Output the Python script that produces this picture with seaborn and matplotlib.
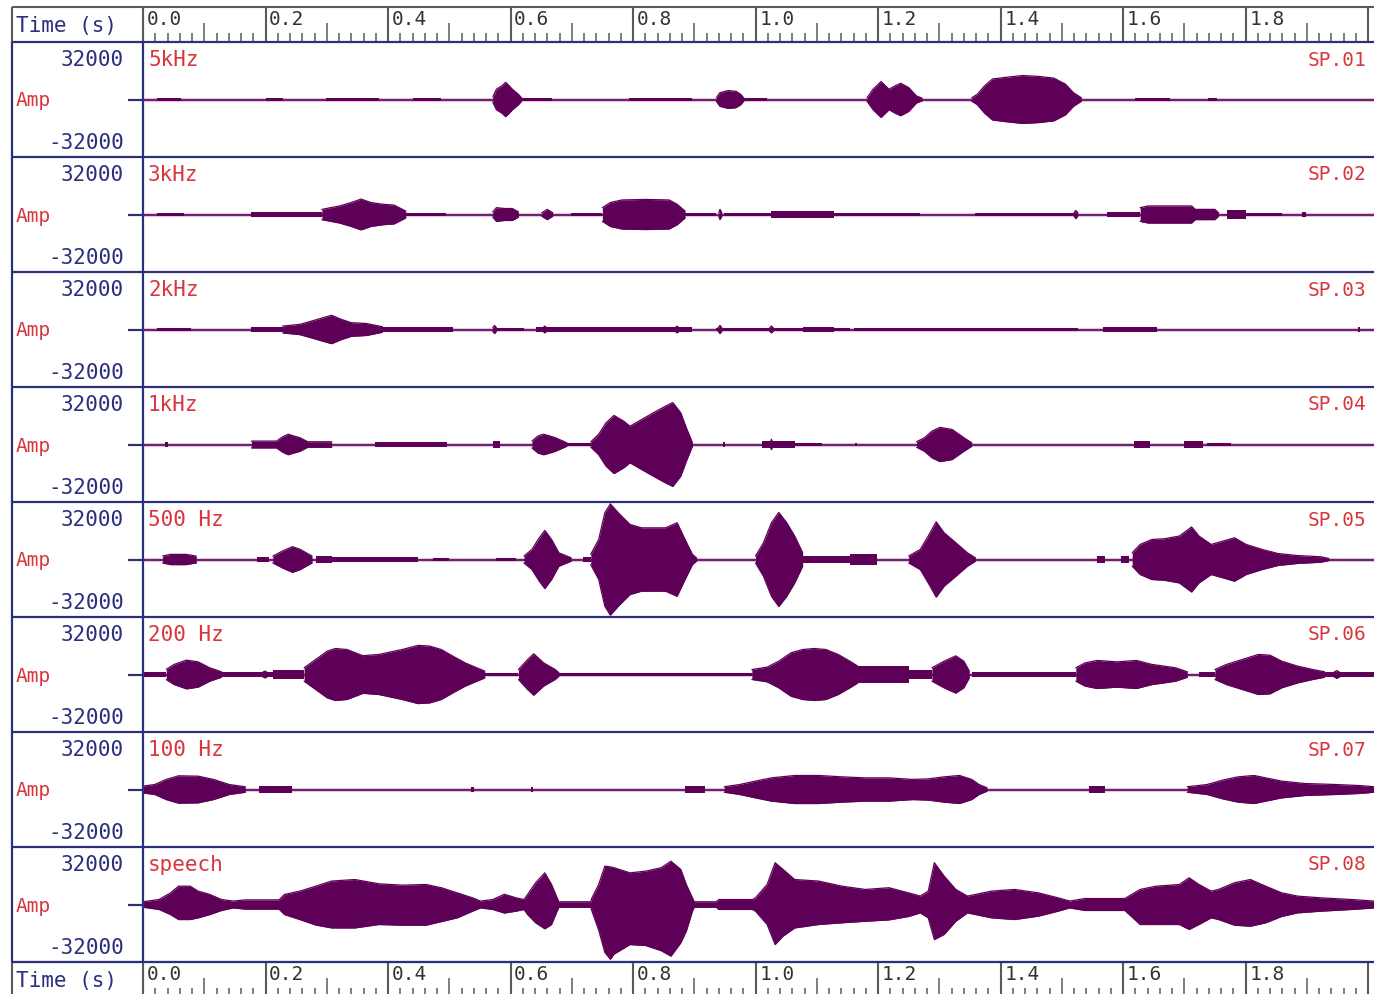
import numpy as np
import pandas as pd
import matplotlib
matplotlib.use("Agg")
import matplotlib.pyplot as plt
import seaborn as sns

# ---------------------------------------------------------------- data
CHANNELS = ["5kHz", "3kHz", "2kHz", "1kHz", "500 Hz", "200 Hz", "100 Hz", "speech"]
TAGS = ["SP.01", "SP.02", "SP.03", "SP.04", "SP.05", "SP.06", "SP.07", "SP.08"]
AMP_LABELS = ["32000", "-32000"]
TIME_LABEL = "Time (s)"

# envelope points of each burst: (time s, +amplitude[, -amplitude])
# low-level stretches: (start s, end s, amplitude)
BURST_5K = [
    [(0.571, 1500), (0.577, 6000), (0.586, 8000), (0.592, 10000), (0.598, 8000), (0.603, 6000), (0.613, 3000), (0.618, 1000)],
    [(0.936, 1000), (0.942, 4000), (0.955, 5200), (0.968, 4800), (0.976, 3000), (0.981, 800)],
    [(1.182, 1000), (1.192, 6000), (1.205, 10500), (1.218, 6000), (1.228, 8000), (1.237, 9500), (1.250, 7000), (1.263, 2000), (1.272, 800)],
    [(1.353, 1000), (1.362, 3000), (1.374, 8000), (1.387, 12000), (1.410, 13000), (1.436, 14000), (1.462, 13500), (1.487, 12500), (1.506, 9000), (1.519, 4000), (1.532, 1000)],
]
LOW_5K = [(0.023, 0.062, 900), (0.200, 0.228, 900), (0.298, 0.385, 900), (0.441, 0.487, 900), (0.615, 0.667, 1000),
          (0.793, 0.897, 900), (0.974, 1.019, 800), (1.619, 1.677, 900), (1.738, 1.754, 900)]

BURST_3K = [
    [(0.292, 3000), (0.321, 5000), (0.340, 7000), (0.356, 9000), (0.372, 7000), (0.391, 6000), (0.410, 5500), (0.429, 2000)],
    [(0.571, 1500), (0.577, 4000), (0.590, 3500), (0.603, 3500), (0.613, 1500)],
    [(0.651, 1000), (0.660, 3000), (0.669, 1000)],
    [(0.750, 4000), (0.763, 7000), (0.782, 8500), (0.821, 8800), (0.859, 8500), (0.872, 6000), (0.885, 2000)],
    [(0.940, 1000), (0.942, 3000), (0.945, 1000)],
    [(1.520, 1000), (1.523, 2400), (1.526, 1000)],
    [(1.628, 4000), (1.641, 5000), (1.712, 5000), (1.718, 3000), (1.750, 3000), (1.756, 1000)],
]
LOW_3K = [(0.023, 0.067, 900), (0.177, 0.292, 1200), (0.429, 0.494, 1000), (0.699, 0.750, 900), (0.885, 0.936, 900),
          (0.949, 1.269, 1000), (1.026, 1.128, 2000), (1.359, 1.526, 1000), (1.574, 1.628, 1500),
          (1.769, 1.801, 2400), (1.801, 1.859, 1000), (1.893, 1.899, 1500)]

BURST_2K = [
    [(0.228, 2000), (0.256, 3000), (0.276, 5000), (0.295, 7000), (0.308, 8300), (0.323, 6000), (0.340, 4000), (0.365, 3500), (0.391, 1600)],
    [(0.571, 1000), (0.574, 2400), (0.577, 1000)],
    [(0.653, 1000), (0.656, 2000), (0.659, 1000)],
    [(0.869, 1000), (0.872, 2000), (0.875, 1000)],
    [(0.939, 1000), (0.942, 2400), (0.945, 1000)],
    [(1.023, 1000), (1.026, 2000), (1.029, 1000)],
]
LOW_2K = [(0.023, 0.079, 900), (0.177, 0.228, 1300), (0.391, 0.506, 1200), (0.571, 0.622, 1000), (0.641, 0.897, 1200),
          (0.936, 1.154, 1000), (1.077, 1.128, 1600), (1.160, 1.526, 1000), (1.567, 1.656, 1300), (1.983, 1.987, 1200)]

BURST_1K = [
    [(0.177, 2000), (0.218, 2000), (0.228, 4500), (0.237, 6000), (0.246, 5000), (0.256, 4000), (0.269, 1600), (0.308, 1600)],
    [(0.635, 2000), (0.645, 5000), (0.654, 6000), (0.664, 5000), (0.673, 4000), (0.692, 1000)],
    [(0.731, 1500), (0.744, 6000), (0.756, 12700), (0.769, 17000), (0.785, 13600), (0.795, 10700), (0.814, 14600),
     (0.833, 18500), (0.853, 22400), (0.865, 24500), (0.878, 18500), (0.887, 9800), (0.897, 1000)],
    [(1.024, 1000), (1.026, 3000), (1.028, 1000)],
    [(1.263, 1600), (1.276, 4000), (1.288, 7800), (1.301, 10000), (1.321, 8800), (1.340, 4000), (1.353, 1000)],
]
LOW_1K = [(0.036, 0.040, 1200), (0.378, 0.497, 1600), (0.571, 0.583, 2000), (0.692, 0.731, 1000), (0.947, 0.951, 1200),
          (1.010, 1.064, 2000), (1.064, 1.109, 1000), (1.162, 1.166, 1000), (1.618, 1.644, 2000),
          (1.699, 1.731, 2000), (1.737, 1.776, 1000)]

BURST_500 = [
    [(0.032, 2000), (0.045, 3000), (0.070, 3000), (0.087, 2000)],
    [(0.212, 2000), (0.228, 5000), (0.244, 7500), (0.256, 6000), (0.276, 2000)],
    [(0.622, 2000), (0.635, 5900), (0.647, 12700), (0.656, 17000), (0.667, 11700), (0.679, 3900), (0.699, 1000)],
    [(0.731, 3000), (0.744, 11700), (0.754, 27300), (0.763, 32500), (0.776, 27300), (0.795, 20500), (0.814, 18500),
     (0.853, 18500), (0.872, 21500), (0.885, 11700), (0.897, 3000), (0.904, 800)],
    [(1.000, 2000), (1.013, 9800), (1.026, 21500), (1.038, 27500), (1.051, 21500), (1.064, 13700), (1.077, 3900)],
    [(1.250, 2000), (1.269, 5900), (1.282, 13700), (1.295, 22000), (1.308, 15600), (1.327, 9800), (1.346, 3900), (1.359, 1000)],
    [(1.615, 3900), (1.628, 8800), (1.647, 11700), (1.667, 12100), (1.692, 13700), (1.712, 19000), (1.724, 13700),
     (1.744, 8800), (1.763, 10700), (1.782, 12700), (1.801, 8800), (1.827, 5900), (1.853, 3500), (1.885, 2300),
     (1.923, 1600), (1.936, 600)],
]
LOW_500 = [(0.186, 0.205, 1600), (0.282, 0.308, 2000), (0.308, 0.449, 1200), (0.474, 0.500, 1000), (0.577, 0.609, 1000),
           (0.718, 0.731, 1600), (1.077, 1.154, 2300), (1.154, 1.199, 3000), (1.558, 1.571, 2000), (1.596, 1.609, 2000)]

BURST_200 = [
    [(0.038, 3000), (0.051, 5900), (0.071, 8400), (0.090, 7400), (0.109, 3900), (0.128, 1600)],
    [(0.195, 1200), (0.199, 2000), (0.203, 1200)],
    [(0.263, 3900), (0.282, 8800), (0.301, 13700), (0.314, 15200), (0.333, 14600), (0.359, 11000), (0.385, 11700),
     (0.423, 14600), (0.449, 17000), (0.468, 16600), (0.487, 14600), (0.506, 10700), (0.526, 6800), (0.545, 3900), (0.558, 2000)],
    [(0.613, 2900), (0.628, 8800), (0.638, 12100), (0.654, 6800), (0.673, 2900), (0.679, 1000)],
    [(0.994, 2900), (1.019, 4300), (1.038, 7800), (1.058, 12700), (1.077, 14600), (1.096, 15200), (1.115, 14600),
     (1.135, 11700), (1.154, 7800), (1.167, 4900)],
    [(1.288, 3900), (1.308, 7800), (1.327, 10900), (1.340, 7800), (1.349, 2000)],
    [(1.523, 3900), (1.538, 6800), (1.558, 8200), (1.590, 7400), (1.622, 8200), (1.647, 5900), (1.667, 4900), (1.686, 3900), (1.705, 1600)],
    [(1.750, 2900), (1.769, 5900), (1.795, 8800), (1.821, 11700), (1.840, 11300), (1.859, 7800), (1.885, 4900), (1.910, 2900), (1.929, 1600)],
    [(1.944, 1200), (1.949, 2300), (1.954, 1200)],
]
LOW_200 = [(0.000, 0.038, 1600), (0.128, 0.212, 1200), (0.212, 0.263, 2700), (0.558, 0.613, 1000), (0.679, 0.994, 1000),
           (1.167, 1.250, 5000), (1.250, 1.288, 2900), (1.353, 1.523, 1200), (1.724, 1.750, 1600), (1.929, 2.010, 1200)]

BURST_100 = [
    [(0.000, 2000), (0.019, 2900), (0.038, 5900), (0.058, 8000), (0.090, 7800), (0.115, 5900), (0.141, 2900), (0.167, 1600)],
    [(0.949, 1600), (0.974, 2900), (1.000, 4900), (1.026, 6800), (1.064, 8200), (1.103, 8200), (1.141, 7400), (1.179, 6800),
     (1.218, 6800), (1.256, 5900), (1.282, 6200), (1.308, 7400), (1.333, 8200), (1.353, 5900), (1.365, 2900), (1.378, 1000)],
    [(1.705, 1600), (1.737, 2900), (1.763, 5500), (1.788, 7400), (1.814, 8200), (1.833, 6800), (1.859, 4900), (1.897, 3500),
     (1.949, 2900), (1.987, 2300), (2.010, 1600)],
]
LOW_100 = [(0.190, 0.244, 2000), (0.536, 0.540, 1600), (0.633, 0.637, 1600), (0.885, 0.917, 2000), (1.545, 1.571, 2000)]

BURST_SPEECH = [[
    (0.000, 1600, 1600), (0.026, 2900, 2900), (0.045, 6800, 5900), (0.058, 10700, 8800), (0.077, 10700, 8800),
    (0.090, 7800, 7800), (0.109, 5900, 5900), (0.128, 2900, 3500), (0.147, 2000, 2000), (0.167, 2700, 2700),
    (0.222, 2700, 2700), (0.231, 5900, 5900), (0.256, 7800, 8800), (0.282, 10700, 12000), (0.308, 13700, 13700),
    (0.346, 14600, 13700), (0.385, 12100, 11700), (0.423, 11300, 12100), (0.462, 11700, 12100), (0.487, 9800, 10000),
    (0.513, 6800, 7800), (0.538, 3900, 3900), (0.551, 2000, 2000), (0.571, 2900, 2900), (0.590, 6000, 5000),
    (0.609, 3900, 3900), (0.622, 2900, 2900), (0.628, 5900, 5900), (0.641, 12700, 10700), (0.656, 18500, 14200),
    (0.667, 11700, 11700), (0.676, 3900, 3900), (0.679, 1600, 1600), (0.731, 1600, 1600), (0.733, 3900, 3900),
    (0.744, 11700, 15000), (0.754, 22400, 28000), (0.763, 22000, 32000), (0.769, 21500, 29000), (0.795, 18500, 23400),
    (0.821, 19500, 24000), (0.846, 21500, 27000), (0.862, 25300, 30200), (0.878, 20500, 22400), (0.887, 11700, 15600),
    (0.897, 3900, 3900), (0.900, 1600, 1600), (0.936, 1600, 1600), (0.940, 2900, 2900), (0.995, 2900, 2900),
    (1.000, 3900, 3900), (1.019, 11700, 11700), (1.032, 24400, 23400), (1.045, 20500, 18500), (1.064, 14600, 13700),
    (1.103, 13700, 11700), (1.141, 10700, 10700), (1.179, 8800, 9800), (1.218, 9800, 9000), (1.250, 6800, 7000),
    (1.269, 4900, 4900), (1.282, 7800, 7800), (1.292, 24400, 20500), (1.308, 16600, 17500), (1.327, 8800, 9800),
    (1.346, 4900, 4900), (1.385, 7800, 7800), (1.423, 8800, 8800), (1.462, 6800, 6800), (1.494, 3900, 3900),
    (1.513, 2000, 2000), (1.538, 3500, 3500), (1.603, 3500, 3500), (1.628, 8800, 11700), (1.654, 10700, 11700),
    (1.692, 11700, 11700), (1.708, 15600, 14600), (1.724, 11700, 11700), (1.744, 7800, 7800), (1.756, 8800, 8800),
    (1.782, 12700, 12100), (1.808, 14600, 12700), (1.833, 10700, 10700), (1.859, 6800, 7000), (1.885, 4900, 4900),
    (1.923, 3900, 3900), (1.974, 2900, 2900), (2.010, 2000, 2000),
]]
LOW_SPEECH = []

BURSTS = [BURST_5K, BURST_3K, BURST_2K, BURST_1K, BURST_500, BURST_200, BURST_100, BURST_SPEECH]
LOWS = [LOW_5K, LOW_3K, LOW_2K, LOW_1K, LOW_500, LOW_200, LOW_100, LOW_SPEECH]

# ---------------------------------------------------------------- style
W, H, DPI = 1374, 995, 100
NAVY = "#2c2f7c"
GREY = "#5a5a5a"
RED = "#d8363c"
WAVE = "#5f0058"
HALO = "#dcc8dc"

PX_PER_S = 612.5
LEFT, COL = 12, 143          # outer frame edge, label column divider
TOP0, HEAD, ROW = 8, 35, 115
XMAX = (W - COL) / PX_PER_S
YLIM = 33600

sns.set_theme(style="white")
plt.rcParams["font.family"] = ["DejaVu Sans Mono", "DejaVu Sans"]
FS = 15

fig = plt.figure(figsize=(W / DPI, H / DPI), dpi=DPI, facecolor="white")


def fig_rect(x, y, w, h):
    return [x / W, 1 - (y + h) / H, w / W, h / H]


def draw_channel(ax, bursts, lows):
    ax.axhline(0, color=HALO, lw=3.0, zorder=1)
    ax.axhline(0, color=WAVE, lw=1.2, zorder=2)
    for pts in bursts:
        t = [p[0] for p in pts]
        up = [p[1] for p in pts]
        dn = [p[2] if len(p) > 2 else p[1] for p in pts]
        ax.fill_between(t, [-d for d in dn], up, color=WAVE, lw=0, zorder=3)
        edge = pd.DataFrame({"t": t + t, "a": up + [-d for d in dn],
                             "side": ["up"] * len(t) + ["dn"] * len(t)})
        sns.lineplot(data=edge, x="t", y="a", units="side", estimator=None, sort=False,
                     color=WAVE, lw=0.9, ax=ax, legend=False, zorder=3)
    for t0, t1, a in lows:
        ax.fill_between([t0, t1], [-a, -a], [a, a], color=WAVE, lw=0, zorder=3)


# waveform panels
for i, (bursts, lows) in enumerate(zip(BURSTS, LOWS)):
    top = TOP0 + HEAD + i * ROW
    ax = fig.add_axes(fig_rect(COL, top, W - COL, ROW))
    draw_channel(ax, bursts, lows)
    ax.set_xlim(0, XMAX)
    ax.set_ylim(-YLIM, YLIM)
    ax.set_axis_off()


# time rulers (top and bottom)
def draw_ruler(y_top):
    ax = fig.add_axes(fig_rect(COL, y_top, W - COL, HEAD))
    ax.set_xlim(0, XMAX)
    ax.set_ylim(HEAD, 0)
    ax.set_axis_off()
    steps = np.arange(0, int(XMAX / 0.02) + 1)
    for k in steps:
        t = k * 0.02
        if k % 10 == 0:
            ax.vlines(t, 0, HEAD, color=GREY, lw=1.5)
            if t + 0.07 < XMAX:
                ax.text(t + 0.006, 2, f"{t:.1f}", color="#333333", fontsize=FS - 1,
                        va="top", ha="left")
        elif k % 5 == 0:
            ax.vlines(t, HEAD - 19, HEAD, color=GREY, lw=1.1)
        else:
            ax.vlines(t, HEAD - 9, HEAD, color=GREY, lw=1.1)


draw_ruler(TOP0)
draw_ruler(TOP0 + HEAD + 8 * ROW)

# frame, label column and texts
fr = fig.add_axes([0, 0, 1, 1], facecolor="none")
fr.set_xlim(0, W)
fr.set_ylim(H, 0)
fr.set_axis_off()

bottom_rows = TOP0 + HEAD + 8 * ROW
for y_top in (TOP0, bottom_rows):
    fr.hlines(y_top, LEFT, W, color=GREY, lw=1.5)
    fr.vlines([LEFT, COL], y_top, y_top + HEAD, color=GREY, lw=1.5)
    fr.text(LEFT + 4, y_top + 18, TIME_LABEL, color=NAVY, fontsize=FS, va="center", ha="left")

for i in range(9):
    fr.hlines(TOP0 + HEAD + i * ROW, LEFT, W, color=NAVY, lw=1.6)
fr.vlines([LEFT, COL], TOP0 + HEAD, bottom_rows, color=NAVY, lw=1.6)

for i, (name, tag) in enumerate(zip(CHANNELS, TAGS)):
    top = TOP0 + HEAD + i * ROW
    fr.text(124, top + 17, AMP_LABELS[0], color=NAVY, fontsize=FS, ha="right", va="center")
    fr.text(124, top + 100, AMP_LABELS[1], color=NAVY, fontsize=FS, ha="right", va="center")
    fr.text(LEFT + 4, top + 58, "Amp", color=RED, fontsize=FS - 1, ha="left", va="center")
    fr.hlines(top + 58, 128, COL, color=NAVY, lw=1.6)
    fr.text(COL + 5, top + 17, name, color=RED, fontsize=FS, ha="left", va="center")
    fr.text(1308, top + 17, tag, color=RED, fontsize=FS - 1, ha="left", va="center")

fig.savefig("out.png", dpi=DPI, facecolor="white")
